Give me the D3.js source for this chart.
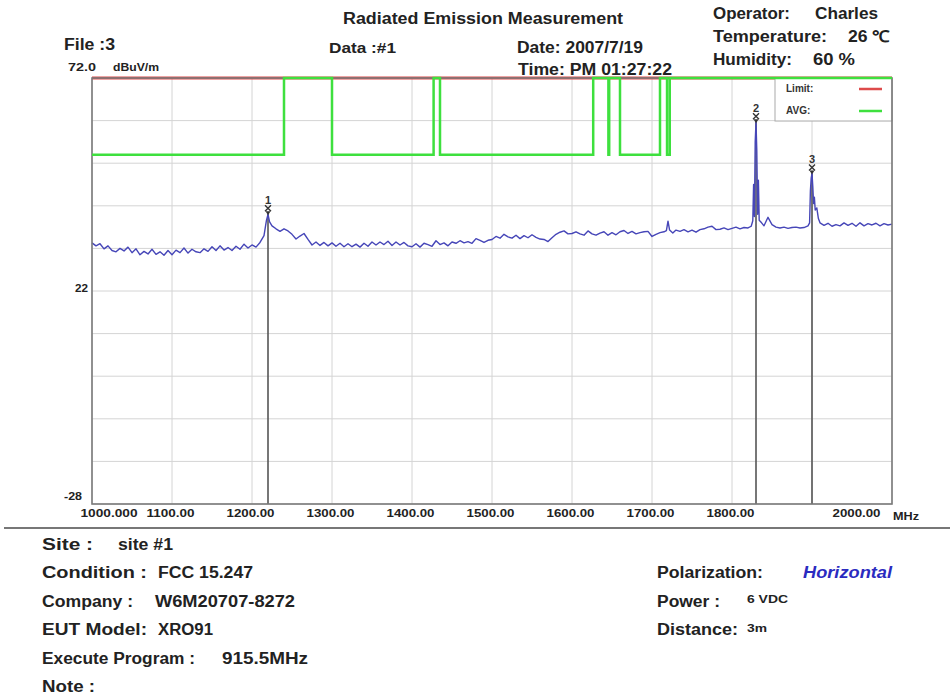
<!DOCTYPE html>
<html>
<head>
<meta charset="utf-8">
<script src="https://cdn.jsdelivr.net/npm/d3@7"></script>
<style>
  body { margin: 0; background: #fff; }
  svg { display: block; font-family: "Liberation Sans", Arial, sans-serif; }
</style>
</head>
<body>
<div id="chart"></div>
<script>
// frequency axis (MHz) and level axis (dBuV/m)
var freqRange = [1000, 2000];
var levelRange = [-28, 72];
var freqTicks = [1000, 1100, 1200, 1300, 1400, 1500, 1600, 1700, 1800, 1900, 2000];
var freqLabels = ["1000.000", "1100.00", "1200.00", "1300.00", "1400.00", "1500.00", "1600.00", "1700.00", "1800.00", "", "2000.00"];
var levelGrid = [-28, -18, -8, 2, 12, 22, 32, 42, 52, 62, 72];
var levelLabels = [[22, "22"], [-28, "-28"]];

// peak limit (off the top of the scale)
var limitLevel = 74;
// AVG limit bands: [start MHz, end MHz, dBuV/m]
var avgBands = [
  [1000, 1240, 54], [1240, 1300, 74], [1300, 1427, 54], [1427, 1435, 74],
  [1435, 1626.5, 54], [1626.5, 1645.5, 74], [1645.5, 1646.5, 54], [1646.5, 1660, 74],
  [1660, 1710, 54], [1710, 1718.8, 74], [1718.8, 1722.2, 54], [1722.2, 2000, 74]
];

// measured trace: [MHz, dBuV/m]
var trace = [
  [1000,33.3],[1005,32.6],[1010,33.1],[1015,31.9],[1020,32.6],[1025,31.5],[1030,31.2],[1035,32.0],[1040,31.4],[1045,32.3],
  [1050,31.0],[1055,31.9],[1060,30.5],[1065,31.3],[1070,30.7],[1075,31.8],[1080,30.6],[1085,31.2],[1090,30.4],[1095,31.5],
  [1100,30.5],[1105,31.6],[1110,31.0],[1115,32.1],[1120,30.9],[1125,31.8],[1130,31.2],[1135,31.0],[1140,31.9],[1145,31.3],
  [1150,32.4],[1155,31.5],[1160,32.6],[1165,31.6],[1170,32.2],[1175,31.5],[1180,32.5],[1185,31.8],[1190,33.0],[1195,32.1],
  [1200,32.8],[1205,32.3],[1210,33.4],[1215,35.0],[1218,38.5],[1220,40.0],[1222,38.2],[1225,37.3],[1230,36.6],[1235,36.0],
  [1240,36.6],[1245,36.1],[1250,35.3],[1255,34.2],[1260,34.9],[1265,35.5],[1270,34.1],[1275,32.8],[1280,33.5],[1285,32.7],
  [1290,33.4],[1295,32.6],[1300,33.3],[1305,32.5],[1310,33.2],[1315,32.4],[1320,33.1],[1325,32.4],[1330,33.0],[1335,32.3],
  [1340,33.2],[1345,32.5],[1350,33.5],[1355,32.8],[1360,33.5],[1365,32.9],[1370,33.7],[1375,32.7],[1380,33.5],[1385,32.8],
  [1390,33.4],[1395,32.6],[1400,32.4],[1405,33.1],[1410,32.3],[1415,33.2],[1420,32.9],[1425,32.5],[1430,33.8],[1435,32.9],
  [1440,33.3],[1445,32.6],[1450,33.5],[1455,33.2],[1460,33.8],[1465,33.3],[1470,33.6],[1475,33.2],[1480,34.3],[1485,33.9],
  [1490,33.4],[1495,33.9],[1500,34.1],[1505,34.8],[1510,34.4],[1515,35.3],[1520,34.7],[1525,34.4],[1530,35.1],[1535,34.3],
  [1540,35.0],[1545,34.5],[1550,35.2],[1555,34.6],[1560,34.2],[1565,34.1],[1570,33.6],[1575,34.5],[1580,35.3],[1585,35.8],
  [1590,36.1],[1595,35.4],[1600,35.5],[1605,35.9],[1610,35.4],[1615,35.1],[1620,36.1],[1625,35.4],[1630,35.1],[1635,35.6],
  [1640,35.9],[1645,35.1],[1650,35.7],[1655,35.2],[1660,35.9],[1665,36.2],[1670,35.5],[1675,36.0],[1680,35.4],[1685,35.7],
  [1690,35.9],[1695,36.0],[1700,34.8],[1705,35.3],[1710,35.7],[1715,35.9],[1718,36.2],[1720,38.4],[1722,36.3],[1726,35.6],
  [1730,36.3],[1735,36.0],[1740,36.4],[1745,35.9],[1750,36.3],[1755,35.8],[1760,36.4],[1765,36.6],[1770,37.0],[1775,37.2],
  [1780,36.4],[1785,36.5],[1790,36.8],[1795,36.4],[1800,36.7],[1805,37.0],[1810,36.6],[1815,36.9],[1820,36.8],[1824,37.2],
  [1826,38.5],[1827,47.0],[1828,39.5],[1829,57.0],[1830,61.6],[1831,55.0],[1832,40.0],[1833,48.0],[1834,38.6],[1837,38.0],
  [1840,37.3],[1845,39.3],[1850,37.6],[1855,37.0],[1860,36.8],[1865,37.0],[1870,36.7],[1875,36.9],[1880,37.0],[1885,36.8],
  [1890,36.9],[1895,37.3],[1897,38.0],[1898,45.5],[1899,48.5],[1900,49.6],[1901,46.5],[1902,42.5],[1903,44.0],[1904,41.0],
  [1906,41.5],[1908,39.0],[1910,38.0],[1915,37.4],[1920,37.9],[1925,37.2],[1930,37.6],[1935,37.3],[1940,38.0],[1945,37.4],
  [1950,37.9],[1955,37.2],[1960,38.0],[1965,37.3],[1970,37.8],[1975,37.5],[1980,37.9],[1985,37.3],[1990,37.8],[1995,37.5],
  [2000,37.7]
];

// markers: [label, MHz, dBuV/m]
var markers = [["1", 1220, 40.0], ["2", 1830, 61.6], ["3", 1900, 49.6]];

var legendItems = [["Limit:", "#dd4b4b"], ["AVG:", "#3ee03e"]];

var infoLeft = [["Site :", "site #1"], ["Condition :", "FCC 15.247"], ["Company :", "W6M20707-8272"],
                ["EUT Model:", "XRO91"], ["Execute Program :", "915.5MHz"], ["Note :", ""]];
var infoRight = [["Polarization:", "Horizontal"], ["Power :", "6 VDC"], ["Distance:", "3m"]];

var W = 950, H = 698;
var svg = d3.select("#chart").append("svg").attr("width", W).attr("height", H);

var x = d3.scaleLinear().domain(freqRange).range([92, 892]);
var y = d3.scaleLinear().domain(levelRange).range([504, 78]).clamp(true);

function label(px, py, s, o) {
    o = o || {};
    var t = svg.append("text")
        .attr("x", px).attr("y", py)
        .attr("font-size", o.size || 16)
        .attr("font-weight", o.weight || "bold")
        .attr("fill", o.color || "#222")
        .text(s);
    if (o.len) t.attr("textLength", o.len).attr("lengthAdjust", "spacingAndGlyphs");
    if (o.style) t.attr("font-style", o.style);
    if (o.anchor) t.attr("text-anchor", o.anchor);
    return t;
}

// grid
var grid = svg.append("g").attr("stroke", "#d4d4d4").attr("stroke-width", 1);
grid.selectAll(".v").data(freqTicks).join("line")
    .attr("x1", function (d) { return x(d); }).attr("x2", function (d) { return x(d); })
    .attr("y1", y(levelRange[0])).attr("y2", y(levelRange[1]));
grid.selectAll(".h").data(levelGrid).join("line")
    .attr("y1", function (d) { return y(d); }).attr("y2", function (d) { return y(d); })
    .attr("x1", x(freqRange[0])).attr("x2", x(freqRange[1]));

// limit line
svg.append("line")
    .attr("x1", x(freqRange[0])).attr("x2", x(freqRange[1]))
    .attr("y1", y(limitLevel)).attr("y2", y(limitLevel))
    .attr("stroke", legendItems[0][1]).attr("stroke-width", 3);

// marker drop lines
svg.append("g").selectAll("line").data(markers).join("line")
    .attr("x1", function (d) { return x(d[1]); }).attr("x2", function (d) { return x(d[1]); })
    .attr("y1", function (d) { return y(d[2]); }).attr("y2", y(levelRange[0]))
    .attr("stroke", "#555").attr("stroke-width", 1.6);

// trace
svg.append("path")
    .attr("d", d3.line()
        .x(function (d) { return x(d[0]); })
        .y(function (d) { return y(d[1]); })(trace))
    .attr("fill", "none").attr("stroke", "#4646b8").attr("stroke-width", 1.4)
    .attr("stroke-linejoin", "round");

// markers
var mk = svg.append("g").selectAll("g").data(markers).join("g")
    .attr("transform", function (d) { return "translate(" + x(d[1]) + "," + y(d[2]) + ")"; });
mk.append("path").attr("d", "M-3,-9L3,-3M3,-9L-3,-3")
    .attr("stroke", "#333").attr("stroke-width", 1.4);
mk.append("path").attr("d", "M-2.5,-3L2.5,-3L0,1Z").attr("fill", "#333");
mk.append("text").attr("y", -10).attr("text-anchor", "middle")
    .attr("font-size", 11).attr("font-weight", "bold").attr("fill", "#333")
    .text(function (d) { return d[0]; });

// legend
var lg = svg.append("g");
lg.append("rect").attr("x", 775).attr("y", y(levelRange[1])).attr("width", x(freqRange[1]) - 775).attr("height", 43)
    .attr("fill", "#fff").attr("stroke", "#aaa").attr("stroke-width", 1);
legendItems.forEach(function (d, i) {
    lg.append("text").attr("x", 786).attr("y", 92 + i * 22).attr("font-size", 10).attr("font-weight", "bold")
        .attr("fill", "#333").text(d[0]);
    lg.append("line").attr("x1", 859).attr("x2", 882).attr("y1", 89 + i * 22).attr("y2", 89 + i * 22)
        .attr("stroke", d[1]).attr("stroke-width", 2.5);
});

// frame
svg.append("rect").attr("x", x(freqRange[0])).attr("y", y(levelRange[1]))
    .attr("width", x(freqRange[1]) - x(freqRange[0])).attr("height", y(levelRange[0]) - y(levelRange[1]))
    .attr("fill", "none").attr("stroke", "#7a7a7a").attr("stroke-width", 1.6);

// avg limit as steps (drawn over the frame, as in the original)
var avgPts = avgBands.map(function (b) { return [b[0], b[2]]; });
avgPts.push([avgBands[avgBands.length - 1][1], avgBands[avgBands.length - 1][2]]);
svg.append("path")
    .attr("d", d3.line().curve(d3.curveStepAfter)
        .x(function (d) { return x(d[0]); })
        .y(function (d) { return y(d[1]); })(avgPts))
    .attr("fill", "none").attr("stroke", legendItems[1][1]).attr("stroke-width", 2.5);

// x axis labels
var xAxis = d3.axisBottom(x).tickValues(freqTicks)
    .tickFormat(function (d, i) { return freqLabels[i]; }).tickSize(0).tickPadding(0);
var xg = svg.append("g").attr("transform", "translate(0,509)").call(xAxis);
xg.select(".domain").remove();
xg.selectAll("text")
    .attr("font-family", "'Liberation Sans', Arial, sans-serif")
    .attr("font-size", 11).attr("font-weight", "bold").attr("fill", "#222")
    .attr("textLength", function (d, i) { return i === 0 ? 57 : 48; })
    .attr("lengthAdjust", "spacingAndGlyphs")
    .attr("text-anchor", function (d, i) { return i === 0 ? "start" : (i === freqTicks.length - 1 ? "end" : "middle"); })
    .attr("dx", function (d, i) { return i === 0 ? -12 : (i === freqTicks.length - 1 ? -12 : -2); });
label(x(freqRange[1]) + 1, 520, "MHz", { size: 11, len: 26 });

// y labels
label(68, 71, levelRange[1].toFixed(1), { size: 11, len: 28 });
label(113, 71, "dBuV/m", { size: 10, len: 46 });
levelLabels.forEach(function (d) {
    label(d[0] < 0 ? 64 : 75, y(d[0]) + (d[0] < 0 ? -4 : 1), d[1], { size: 11, len: d[0] < 0 ? 18 : 13 });
});

// header
label(343, 24, "Radiated Emission Measurement", { size: 16, len: 280 });
label(64, 50, "File :3", { size: 16, len: 51 });
label(329, 53, "Data :#1", { size: 15, len: 67 });
label(517, 53, "Date: 2007/7/19", { size: 16, len: 126 });
label(518, 75, "Time: PM 01:27:22", { size: 16, len: 154 });
label(713, 19, "Operator:", { size: 16, len: 77 });
label(815, 19, "Charles", { size: 16, len: 63 });
label(713, 42, "Temperature:", { size: 16, len: 114 });
label(848, 42, "26 \u2103", { size: 16, len: 42 });
label(713, 65, "Humidity:", { size: 16, len: 79 });
label(813, 65, "60 %", { size: 16, len: 42 });

// separator
svg.append("line").attr("x1", 4).attr("x2", W).attr("y1", 528).attr("y2", 528)
    .attr("stroke", "#777").attr("stroke-width", 2);

// info block
var leftLens = [[51, 118, 55], [105, 158, 95], [91, 155, 140], [105, 158, 55], [153, 222, 86], [53, 0, 0]];
infoLeft.forEach(function (d, i) {
    var yy = 550 + i * 28.4;
    label(42, yy, d[0], { size: 16, len: leftLens[i][0] });
    if (d[1]) label(leftLens[i][1], yy, d[1], { size: 16, len: leftLens[i][2] });
});
label(657, 578, infoRight[0][0], { size: 16, len: 106 });
label(803, 578, infoRight[0][1], { size: 16, len: 89, style: "italic", color: "#2b2bc0" });
label(657, 607, infoRight[1][0], { size: 16, len: 63 });
label(747, 603, infoRight[1][1], { size: 11, len: 41 });
label(657, 635, infoRight[2][0], { size: 16, len: 81 });
label(747, 632, infoRight[2][1], { size: 11, len: 20 });
</script>
</body>
</html>
